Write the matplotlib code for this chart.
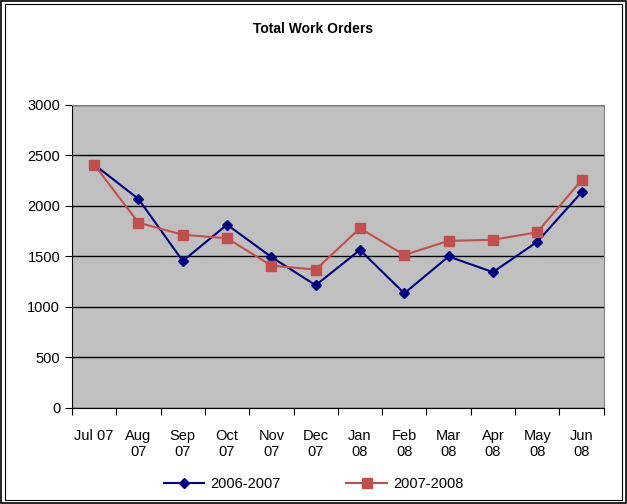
import matplotlib.pyplot as plt
from matplotlib.patches import Rectangle

plt.rcParams['font.family'] = ['Liberation Sans', 'DejaVu Sans']

months = ['Jul 07', 'Aug\n07', 'Sep\n07', 'Oct\n07', 'Nov\n07', 'Dec\n07',
          'Jan\n08', 'Feb\n08', 'Mar\n08', 'Apr\n08', 'May\n08', 'Jun\n08']
fy_2006_2007 = [2410, 2070, 1455, 1815, 1495, 1215, 1565, 1135, 1500, 1345, 1645, 2135]
fy_2007_2008 = [2410, 1835, 1715, 1680, 1410, 1370, 1780, 1515, 1655, 1665, 1740, 2255]

fig = plt.figure(figsize=(6.27, 5.04), dpi=100)
# double border round the chart
fig.patches.append(Rectangle((0.002, 0.002), 0.996, 0.996, transform=fig.transFigure,
                             fill=False, edgecolor='black', linewidth=1.2))
fig.patches.append(Rectangle((0.008, 0.008), 0.984, 0.984, transform=fig.transFigure,
                             fill=False, edgecolor='black', linewidth=0.8))

ax = fig.add_axes([0.1148, 0.1905, 0.848, 0.6012])
ax.set_facecolor('#C0C0C0')

x = list(range(len(months)))
ax.plot(x, fy_2006_2007, color='#000080', marker='D', markersize=5, linewidth=1.5, label='2006-2007')
ax.plot(x, fy_2007_2008, color='#C0504D', marker='s', markersize=7, linewidth=1.5, label='2007-2008')

ax.set_xlim(-0.5, len(months) - 0.5)
ax.set_ylim(0, 3000)
ax.set_yticks(range(0, 3001, 500))
ax.yaxis.grid(True, color='black', linewidth=1)
ax.set_axisbelow(True)

ax.set_xticks([i - 0.5 for i in range(len(months) + 1)])
ax.set_xticklabels([])
ax.set_xticks(x, minor=True)
ax.set_xticklabels(months, minor=True, fontsize=10.5)
ax.tick_params(axis='x', which='minor', length=0, pad=15)
ax.tick_params(axis='x', which='major', length=5, direction='out')
ax.tick_params(axis='y', length=5, direction='out', labelsize=10.5)

for side in ['top', 'right']:
    ax.spines[side].set_color('#808080')
ax.spines['left'].set_color('black')
ax.spines['bottom'].set_color('black')

fig.text(0.5, 0.942, 'Total Work Orders', ha='center', va='center', fontsize=10, fontweight='bold')
fig.legend(loc='center', bbox_to_anchor=(0.5, 0.04), ncol=2, frameon=False, fontsize=10.5,
           handlelength=2.8, handletextpad=0.4, columnspacing=4.5)

fig.savefig('out.png', dpi=100)
